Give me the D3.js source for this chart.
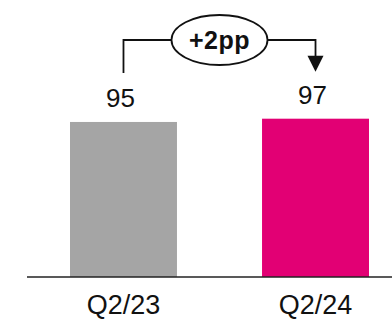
<!DOCTYPE html>
<html>
<head>
<meta charset="utf-8">
<script src="https://cdn.jsdelivr.net/npm/d3@7"></script>
<style>
  html, body { margin: 0; padding: 0; background: #fff; }
  svg { display: block; }
  text { font-family: "Liberation Sans", Arial, sans-serif; fill: #111; }
</style>
</head>
<body>
<svg id="chart" width="392" height="321"></svg>
<script>
// Period labels and the metric value for each period
const categories = ["Q2/23", "Q2/24"];
const values = [95, 97];
const barColors = ["#a5a5a5", "#e20074"];
const changeLabel = "+2pp";

const svg = d3.select("#chart");
const W = 392, H = 321;
const baseY = 277;

const x = d3.scaleBand()
  .domain(categories)
  .range([22, 417])
  .paddingInner(0.443)
  .paddingOuter(0.25);

const y = d3.scaleLinear()
  .domain([0, 100])
  .range([baseY, baseY - 163.2]);

// Bars
svg.selectAll("rect.bar")
  .data(values)
  .join("rect")
  .attr("class", "bar")
  .attr("x", (d, i) => x(categories[i]))
  .attr("y", d => y(d))
  .attr("width", x.bandwidth())
  .attr("height", d => y(0) - y(d))
  .attr("fill", (d, i) => barColors[i]);

// Baseline
svg.append("line")
  .attr("x1", 27).attr("x2", W)
  .attr("y1", baseY).attr("y2", baseY)
  .attr("stroke", "#222").attr("stroke-width", 1.6);

// Category axis labels
const xAxis = d3.axisBottom(x).tickSize(0).tickPadding(0);
const gx = svg.append("g").attr("transform", `translate(0,${baseY})`).call(xAxis);
gx.select(".domain").remove();
gx.selectAll("text")
  .attr("y", 37).attr("dy", 0)
  .style("font-size", "27px")
  .style("font-family", "'Liberation Sans', Arial, sans-serif")
  .attr("fill", "#111");

// Value labels above bars
const valueOffset = 15;
svg.selectAll("text.val")
  .data(values)
  .join("text")
  .attr("class", "val")
  .attr("x", (d, i) => x(categories[i]) + x.bandwidth() / 2 - 3)
  .attr("y", d => y(d) - valueOffset)
  .attr("text-anchor", "middle")
  .style("font-size", "26px")
  .text(d => d);

// Change bracket with ellipse badge
const cx0 = x(categories[0]) + x.bandwidth() / 2;
const cx1 = x(categories[1]) + x.bandwidth() / 2;
const topY = 40;
const startY = y(values[0]) - valueOffset - 34;
const tipY = y(values[1]) - valueOffset - 32;
const ex = (cx0 + cx1) / 2, rx = 48, ry = 25;

const g = svg.append("g").attr("fill", "none").attr("stroke", "#111").attr("stroke-width", 1.8);
g.append("path").attr("d", `M${cx0},${startY} V${topY} H${ex - rx}`);
g.append("path").attr("d", `M${ex + rx},${topY} H${cx1} V${tipY - 15}`);
g.append("ellipse").attr("cx", ex).attr("cy", topY).attr("rx", rx).attr("ry", ry)
  .attr("fill", "#fff");
svg.append("path")
  .attr("d", `M${cx1 - 8},${tipY - 16} L${cx1 + 8},${tipY - 16} L${cx1},${tipY} Z`)
  .attr("fill", "#111");

svg.append("text")
  .attr("x", ex)
  .attr("y", topY + 9)
  .attr("text-anchor", "middle")
  .style("font-size", "25px")
  .style("font-weight", "bold")
  .style("letter-spacing", "0.5px")
  .text(changeLabel);
</script>
</body>
</html>
